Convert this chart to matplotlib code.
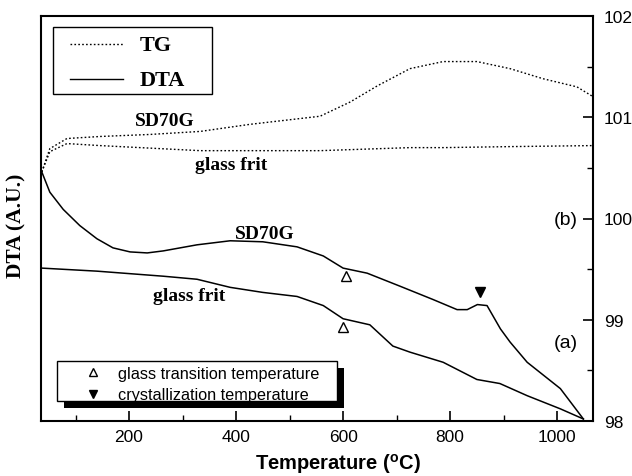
import matplotlib
matplotlib.use("Agg")
import matplotlib.pyplot as plt
from matplotlib.lines import Line2D
from matplotlib.patches import Rectangle
from matplotlib.ticker import MultipleLocator
from matplotlib.transforms import Affine2D

plt.rcParams['font.family'] = ['Liberation Sans', 'DejaVu Sans']
plt.rcParams['mathtext.fontset'] = 'custom'
plt.rcParams['mathtext.rm'] = 'Liberation Sans'
plt.rcParams['mathtext.bf'] = 'Liberation Sans:bold'

# TG curves
tg_sd70g_T = [37, 52, 84, 146, 239, 333, 426, 557, 613, 664, 725, 787, 850, 912, 974, 1037, 1065]
tg_sd70g_v = [100.46, 100.69, 100.79, 100.81, 100.83, 100.86, 100.93, 101.01, 101.15, 101.31,
              101.48, 101.55, 101.55, 101.48, 101.38, 101.30, 101.21]
tg_frit_T = [37, 52, 84, 146, 333, 557, 725, 787, 912, 1065]
tg_frit_v = [100.46, 100.66, 100.74, 100.72, 100.67, 100.67, 100.70, 100.70, 100.71, 100.72]

# DTA curves
dta_sd70g_T = [37, 52, 77, 108, 140, 170, 202, 234, 264, 327, 389, 450, 514, 563, 600, 645,
               707, 768, 813, 832, 851, 869, 894, 912, 944, 1006, 1049]
dta_sd70g_v = [100.46, 100.26, 100.09, 99.93, 99.80, 99.71, 99.67, 99.66, 99.68, 99.74, 99.78,
               99.77, 99.72, 99.63, 99.51, 99.46, 99.33, 99.20, 99.10, 99.10, 99.15, 99.14,
               98.91, 98.78, 98.58, 98.32, 98.02]
dta_frit_T = [37, 140, 264, 327, 389, 450, 514, 563, 600, 650, 693, 725, 787, 850, 893, 944, 1006, 1049]
dta_frit_v = [99.51, 99.48, 99.43, 99.40, 99.32, 99.27, 99.23, 99.14, 99.01, 98.95, 98.74,
              98.68, 98.58, 98.41, 98.37, 98.25, 98.12, 98.02]

# markers
tg_marks_T = [606, 600]
tg_marks_v = [99.43, 98.93]
cryst_T = [856]
cryst_v = [99.27]

x_ticks = [200, 400, 600, 800, 1000]
y_ticks = [98, 99, 100, 101, 102]

W, H = 632, 477
fig = plt.figure(figsize=(W / 100, H / 100), dpi=100)
ax = fig.add_axes([41 / W, 1 - 422 / H, (593 - 41) / W, (422 - 17) / H])
pix = Affine2D().scale(1 / W, -1 / H).translate(0, 1) + fig.transFigure

dot = (0, (1.2, 1.6))
ax.plot(tg_sd70g_T, tg_sd70g_v, color='black', lw=1.0, ls=dot)
ax.plot(tg_frit_T, tg_frit_v, color='black', lw=1.0, ls=dot)
ax.plot(dta_sd70g_T, dta_sd70g_v, color='black', lw=1.1)
ax.plot(dta_frit_T, dta_frit_v, color='black', lw=1.1)
ax.plot(tg_marks_T, tg_marks_v, ls='none', marker='^', ms=7, mfc='white', mec='black', mew=1.0)
ax.plot(cryst_T, cryst_v, ls='none', marker='v', ms=7, mfc='black', mec='black')

ax.set_xlim(35.5, 1067)
ax.set_ylim(98, 102)
ax.set_xticks(x_ticks)
ax.xaxis.set_minor_locator(MultipleLocator(100))
ax.yaxis.tick_right()
ax.set_yticks(y_ticks)
ax.yaxis.set_minor_locator(MultipleLocator(0.5))
ax.tick_params(axis='x', which='major', direction='in', length=7, width=1.2, labelsize=12.5, pad=6)
ax.tick_params(axis='x', which='minor', direction='in', length=4, width=1.0)
ax.tick_params(axis='y', which='major', direction='in', length=7, width=1.2, labelsize=12.5, pad=8,
               left=False, right=True, labelleft=False, labelright=True)
ax.tick_params(axis='y', which='minor', direction='in', length=4, width=1.0, left=False, right=True)
ax.set_yticklabels([str(v) for v in y_ticks])
for s in ax.spines.values():
    s.set_linewidth(1.5)

fig.text(338, 464, r'Temperature ($^{\mathbf{o}}$C)', transform=pix, fontsize=14.5,
         fontweight='bold', ha='center', va='center')
fig.text(16, 226, 'DTA (A.U.)', transform=pix, rotation=90, fontsize=15.5, fontweight='bold',
         family='Liberation Serif', ha='center', va='center')

serif = dict(family='Liberation Serif', fontweight='bold', fontsize=14)
for (x, y), s in [((165, 121), 'SD70G'), ((231, 166), 'glass frit'),
                  ((265, 235), 'SD70G'), ((189, 297), 'glass frit')]:
    fig.text(x, y, s, transform=pix, ha='center', va='center', **serif)
for (x, y), s in [((566, 221), '(b)'), ((566, 344), '(a)')]:
    fig.text(x, y, s, transform=pix, ha='center', va='center', fontsize=14)

# legend 1 (TG / DTA)
ax.add_artist(Rectangle((53, 28), 159, 67, transform=pix, facecolor='white',
                        edgecolor='black', lw=1.0, zorder=5))
fig.add_artist(Line2D([70, 123], [45, 45], transform=pix, color='black', lw=1.0, ls=dot, zorder=6))
fig.add_artist(Line2D([70, 123], [80, 80], transform=pix, color='black', lw=1.0, zorder=6))
leg_serif = dict(family='Liberation Serif', fontweight='bold', fontsize=16)
fig.text(140, 46, 'TG', transform=pix, ha='left', va='center', zorder=6, **leg_serif)
fig.text(140, 81, 'DTA', transform=pix, ha='left', va='center', zorder=6, **leg_serif)

# legend 2 (markers) with shadow
ax.add_artist(Rectangle((64, 369), 280, 40, transform=pix, facecolor='black',
                        edgecolor='none', zorder=5))
ax.add_artist(Rectangle((57, 362), 280, 40, transform=pix, facecolor='white',
                        edgecolor='black', lw=1.0, zorder=6))
fig.add_artist(Line2D([93], [373], transform=pix, ls='none', marker='^', ms=6, mfc='white',
                      mec='black', zorder=7))
fig.add_artist(Line2D([93], [395], transform=pix, ls='none', marker='v', ms=6, mfc='black',
                      mec='black', zorder=7))
fig.text(118, 373, 'glass transition temperature', transform=pix, ha='left',
         va='center_baseline', fontsize=11.7, zorder=7)
fig.text(118, 394, 'crystallization temperature', transform=pix, ha='left',
         va='center_baseline', fontsize=11.7, zorder=7)

fig.savefig('out.png', dpi=100)
